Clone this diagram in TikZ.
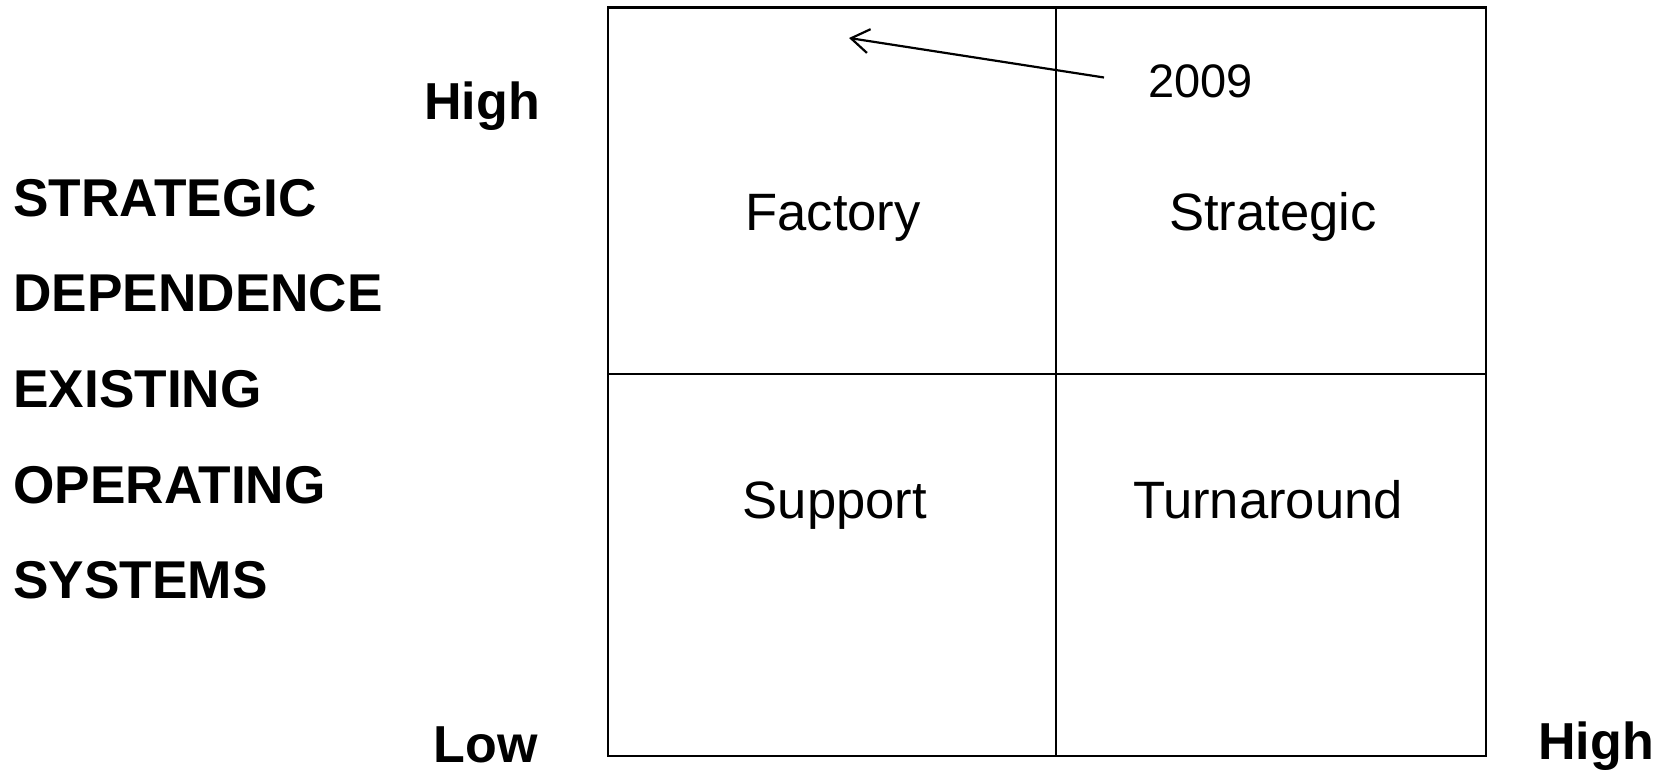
\documentclass[tikz,border=0pt]{standalone}
\usepackage{fontspec}
\setmainfont{Liberation Sans}
\usetikzlibrary{arrows.meta}
\begin{document}
\begin{tikzpicture}[x=0.5pt,y=-0.5pt,
  axislabel/.style={font=\fontsize{26}{31}\selectfont\bfseries, inner sep=0pt},
  sidelabel/.style={font=\fontsize{26.6}{31}\selectfont\bfseries, inner sep=0pt, anchor=base west},
  quadlabel/.style={font=\fontsize{26.3}{31}\selectfont, inner sep=0pt, anchor=base},
  yearlabel/.style={font=\fontsize{23.5}{28}\selectfont, inner sep=0pt, anchor=base west},
  gridline/.style={line width=1.1pt, black},
  thinline/.style={line width=0.8pt, black},
  pointer/.style={line width=1.1pt, -{Straight Barb[length=9pt,width=12pt,line width=1.1pt]}}
]
\useasboundingbox (0,0) rectangle (1664,774);
% grid
\draw[gridline] (608,7.5) rectangle (1486,756);
\draw[gridline] (608,374) -- (1486,374);
\draw[thinline] (1056,7.5) -- (1056,756);
% axis labels
\node[sidelabel] (s1) at (13,216.5) {STRATEGIC};
\node[sidelabel] (s2) at (13,312) {DEPENDENCE};
\node[sidelabel] (s3) at (13,407.5) {EXISTING};
\node[sidelabel] (s4) at (13,503) {OPERATING};
\node[sidelabel] (s5) at (13,598.5) {SYSTEMS};
\node[axislabel, anchor=base west] (yhigh) at (424,120) {High};
\node[axislabel, anchor=base west] (ylow) at (433.5,762) {Low};
\node[axislabel, anchor=base west] (xhigh) at (1538,759) {High};
% quadrant labels
\node[quadlabel] (factory) at (833,231) {Factory};
\node[quadlabel] (strategic) at (1273,231) {Strategic};
\node[quadlabel] (support) at (835,518) {Support};
\node[quadlabel] (turnaround) at (1268,518) {Turnaround};
% 2009 pointer
\node[yearlabel] (year) at (1148,97.5) {2009};
\coordinate (pstart) at (1104,77.5);
\coordinate (ptip) at (849,38);
\draw[pointer] (pstart) -- (ptip);
\end{tikzpicture}
\end{document}
